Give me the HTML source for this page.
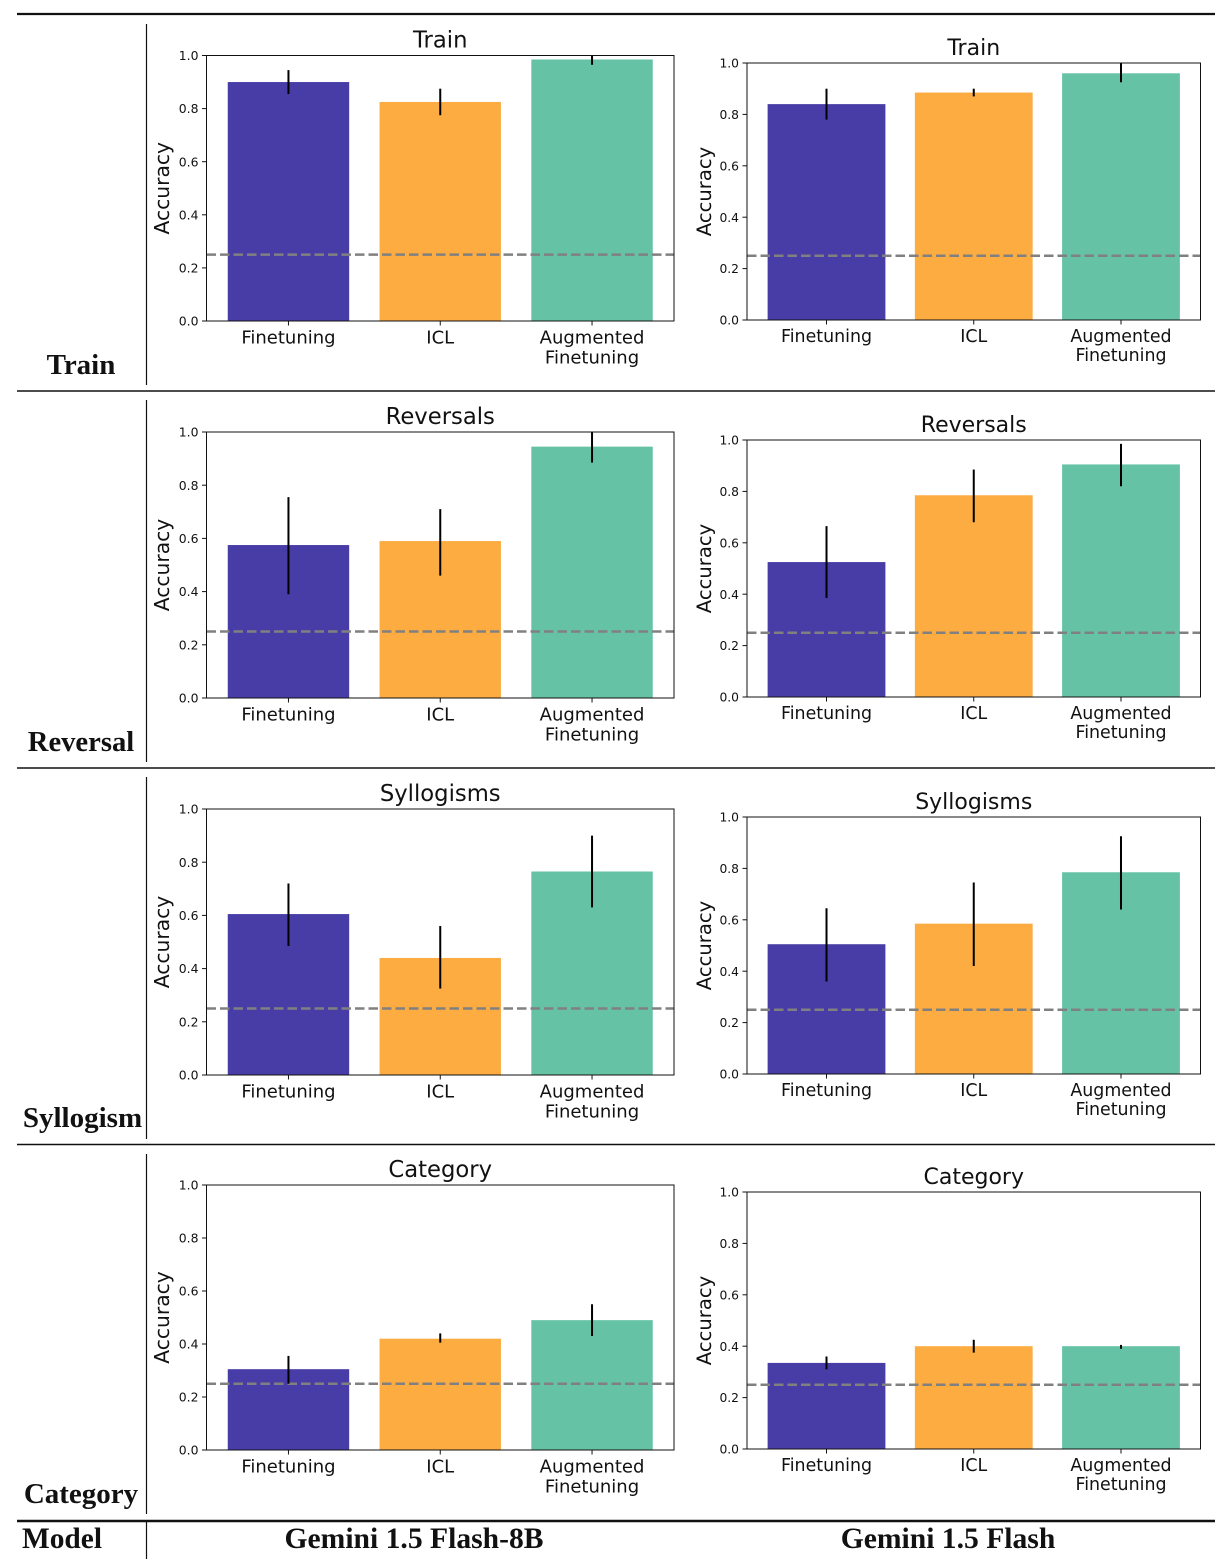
<!DOCTYPE html>
<html lang="en">
<head>
<meta charset="utf-8">
<title>Accuracy by model and task</title>
<style>
html,body{margin:0;padding:0;background:#fff;width:1223px;height:1567px;overflow:hidden}
svg{display:block}
.chart{font-family:"DejaVu Sans","Liberation Sans",sans-serif;fill:#111}
.head{font-family:"Liberation Serif",serif;font-weight:bold;fill:#111}
</style>
</head>
<body>
<svg id="figure" width="1223" height="1567" viewBox="0 0 1223 1567" xmlns="http://www.w3.org/2000/svg">
  <rect width="1223" height="1567" fill="#fff"/>
  <g stroke="#111" fill="none">
    <line x1="17" x2="1215" y1="14" y2="14" stroke-width="2.2"/>
    <line x1="17" x2="1215" y1="391" y2="391" stroke-width="1.6"/>
    <line x1="17" x2="1215" y1="768" y2="768" stroke-width="1.6"/>
    <line x1="17" x2="1215" y1="1144.5" y2="1144.5" stroke-width="1.6"/>
    <line x1="17" x2="1215" y1="1521" y2="1521" stroke-width="2.6"/>
    <line x1="146.5" x2="146.5" y1="24" y2="385" stroke-width="1.2"/>
    <line x1="146.5" x2="146.5" y1="400" y2="762" stroke-width="1.2"/>
    <line x1="146.5" x2="146.5" y1="777" y2="1139" stroke-width="1.2"/>
    <line x1="146.5" x2="146.5" y1="1154" y2="1514" stroke-width="1.2"/>
    <line x1="146.5" x2="146.5" y1="1522" y2="1559" stroke-width="1.2"/>
  </g>
  <text class="head" x="81" y="374" font-size="29" text-anchor="middle">Train</text>
  <text class="head" x="81" y="751" font-size="28.6" text-anchor="middle">Reversal</text>
  <text class="head" x="82.5" y="1127" font-size="29" text-anchor="middle">Syllogism</text>
  <text class="head" x="81" y="1503" font-size="29" text-anchor="middle">Category</text>
  <text class="head" x="62" y="1548" font-size="29.4" text-anchor="middle">Model</text>
  <text class="head" x="414" y="1548" font-size="29.6" text-anchor="middle">Gemini 1.5 Flash-8B</text>
  <text class="head" x="948" y="1548" font-size="29.6" text-anchor="middle">Gemini 1.5 Flash</text>
  <g id="charts" class="chart"></g>
</svg>
<script>
// ---- chart data ----
const categories = ["Finetuning", "ICL", "Augmented\nFinetuning"];
const taskTitles = ["Train", "Reversals", "Syllogisms", "Category"];
const yTickLabels = ["0.0", "0.2", "0.4", "0.6", "0.8", "1.0"];
const chanceLevel = 0.25;

const flash8bMeans = [[0.90, 0.825, 0.985], [0.575, 0.59, 0.945], [0.605, 0.44, 0.765], [0.305, 0.42, 0.49]];
const flash8bLow = [[0.855, 0.775, 0.965], [0.39, 0.46, 0.885], [0.485, 0.325, 0.63], [0.25, 0.405, 0.43]];
const flash8bHigh = [[0.945, 0.875, 1.0], [0.755, 0.71, 1.0], [0.72, 0.56, 0.90], [0.355, 0.44, 0.55]];

const flashMeans = [[0.84, 0.885, 0.96], [0.525, 0.785, 0.905], [0.505, 0.585, 0.785], [0.335, 0.40, 0.40]];
const flashLow = [[0.78, 0.87, 0.925], [0.385, 0.68, 0.82], [0.36, 0.42, 0.64], [0.31, 0.375, 0.39]];
const flashHigh = [[0.90, 0.90, 1.0], [0.665, 0.885, 0.985], [0.645, 0.745, 0.925], [0.36, 0.425, 0.405]];

// ---- layout and style ----
const barColors = ["#483DA6", "#FDAC42", "#66C2A5"];
const layouts = [
  { model: "flash-8b", means: flash8bMeans, low: flash8bLow, high: flash8bHigh,
    left: 206.5, right: 674, tops: [55.5, 432, 809, 1185], bottoms: [321, 698, 1075, 1450],
    barWidth: 0.8, pad: 0.54, tickFont: 12.4, catFont: 18, titleFont: 22.7, ylabelFont: 20.3,
    ylabelX: 169, titleGap: 8, catLine: 20, catGap: 22.5 },
  { model: "flash", means: flashMeans, low: flashLow, high: flashHigh,
    left: 747, right: 1200.5, tops: [63, 440, 817, 1192], bottoms: [320, 697, 1074, 1449],
    barWidth: 0.8, pad: 0.54, tickFont: 12.3, catFont: 17.4, titleFont: 22, ylabelFont: 19.6,
    ylabelX: 711, titleGap: 8, catLine: 19, catGap: 22 }
];

const SVG_NS = "http://www.w3.org/2000/svg";
const root = document.getElementById("charts");

function mk(tag, attrs, parent) {
  const el = document.createElementNS(SVG_NS, tag);
  for (const k in attrs) el.setAttribute(k, attrs[k]);
  parent.appendChild(el);
  return el;
}

function slug(s) {
  return s.toLowerCase().replace(/\s+/g, "-");
}

layouts.forEach(function (L) {
  taskTitles.forEach(function (title, r) {
    const top = L.tops[r], bottom = L.bottoms[r];
    // axis functions
    const yScale = function (v) { return bottom - v * (bottom - top); };
    const span = categories.length - 1 + 2 * L.pad;
    const xScale = function (i) { return L.left + (i + L.pad) / span * (L.right - L.left); };
    const bandPx = (L.right - L.left) / span;

    const panel = mk("g", {}, root);
    
    

    // bars
    categories.forEach(function (cat, i) {
      const x = xScale(i), y = yScale(L.means[r][i]);
      const bar = mk("rect", { x: x - bandPx * L.barWidth / 2, y: y, width: bandPx * L.barWidth, height: bottom - y, fill: barColors[i] }, panel);
      
      
    });

    // chance line
    const chance = mk("line", { x1: L.left, x2: L.right, y1: yScale(chanceLevel), y2: yScale(chanceLevel), stroke: "#808080", "stroke-width": 2.4, "stroke-dasharray": "9.5 4" }, panel);
    
    

    // error bars
    categories.forEach(function (cat, i) {
      const x = xScale(i);
      const err = mk("line", { x1: x, x2: x, y1: yScale(L.low[r][i]), y2: yScale(L.high[r][i]), stroke: "#000", "stroke-width": 2 }, panel);
      
      
    });

    // axes frame
    const frame = mk("rect", { x: L.left, y: top, width: L.right - L.left, height: bottom - top, fill: "none", stroke: "#111", "stroke-width": 1 }, panel);
    
    

    // y ticks
    yTickLabels.forEach(function (lab) {
      const y = yScale(parseFloat(lab));
      const tick = mk("line", { x1: L.left - 4.5, x2: L.left, y1: y, y2: y, stroke: "#111", "stroke-width": 1 }, panel);
      
      
      const t = mk("text", { x: L.left - 8, y: y + L.tickFont * 0.37, "font-size": L.tickFont, "text-anchor": "end" }, panel);
      
      
      t.textContent = lab;
    });

    // x ticks and labels
    categories.forEach(function (cat, i) {
      const x = xScale(i);
      const tick = mk("line", { x1: x, x2: x, y1: bottom, y2: bottom + 4.5, stroke: "#111", "stroke-width": 1 }, panel);
      
      
      const t = mk("text", { "font-size": L.catFont, "text-anchor": "middle" }, panel);
      
      
      cat.split("\n").forEach(function (line, n) {
        const s = mk("tspan", { x: x, y: bottom + L.catGap + n * L.catLine }, t);
        s.textContent = line;
      });
    });

    // y axis title
    const midY = (top + bottom) / 2;
    const yl = mk("text", { transform: "translate(" + L.ylabelX + " " + midY + ") rotate(-90)", "font-size": L.ylabelFont, "text-anchor": "middle" }, panel);
    
    
    yl.textContent = "Accuracy";

    // panel title
    const tt = mk("text", { x: (L.left + L.right) / 2, y: top - L.titleGap, "font-size": L.titleFont, "text-anchor": "middle" }, panel);
    
    
    tt.textContent = title;
  });
});
</script>
</body>
</html>
